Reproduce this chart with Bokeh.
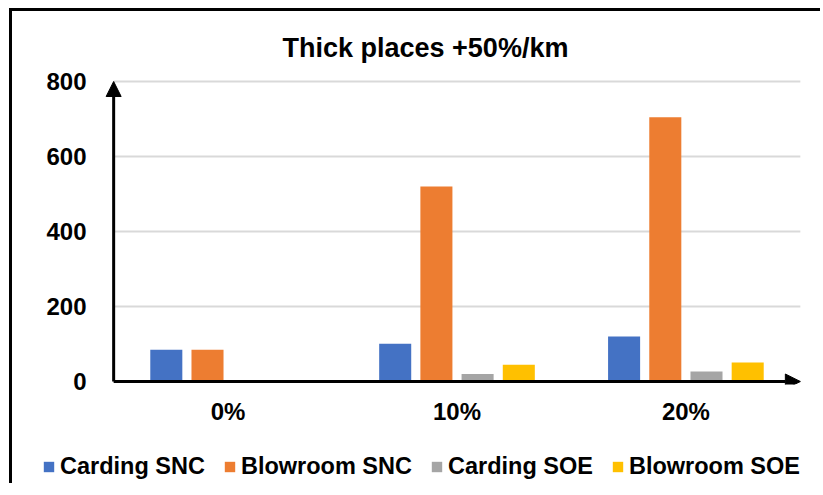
from bokeh.plotting import figure
from bokeh.models import (FactorRange, ColumnDataSource, Legend, LegendItem, Arrow,
                          NormalHead, FixedTicker, Range1d)
from bokeh.layouts import column
from bokeh.transform import dodge
from bokeh.embed import file_html
from bokeh.resources import INLINE

categories = ["0%", "10%", "20%"]
carding_snc = [85, 101, 120]
blowroom_snc = [85, 520, 705]
carding_soe = [0, 20, 27]
blowroom_soe = [0, 45, 51]
series_names = ["Carding SNC", "Blowroom SNC", "Carding SOE", "Blowroom SOE"]
y_ticks = [0, 200, 400, 600, 800]

colors = ["#4472C4", "#ED7D31", "#A5A5A5", "#FFC000"]
FONT = "Liberation Sans"

source = ColumnDataSource(dict(cat=categories, cs=carding_snc, bs=blowroom_snc,
                               co=carding_soe, bo=blowroom_soe))

p = figure(x_range=FactorRange(*categories, range_padding=0.04,
                               range_padding_units="absolute"),
           y_range=Range1d(-8, 808),
           width=808, height=437, output_backend="svg", toolbar_location=None,
           min_border_left=92, min_border_right=11, min_border_top=67,
           min_border_bottom=64)
p.frame_align = False
p.outline_line_color = None
p.background_fill_color = "white"
p.border_fill_color = "white"

p.title.text = "Thick places +50%/km"
p.title.text_font = FONT
p.title.text_font_size = "27px"
p.title.text_font_style = "bold"
p.title.text_color = "black"
p.title.align = "left"
p.title.offset = 178
p.title.standoff = 32

# grid lines drawn from the axis to the arrow end
p.segment(x0=[0] * len(y_ticks), x1=[3] * len(y_ticks), y0=y_ticks, y1=y_ticks,
          line_color="#D9D9D9", line_width=2)

offsets = [-0.27, -0.09, 0.09, 0.27]
fields = ["cs", "bs", "co", "bo"]
for f, off, c in zip(fields, offsets, colors):
    p.vbar(x=dodge("cat", off, range=p.x_range), top=f, width=0.14,
           source=source, fill_color=c, line_color=None)

# axes styling
for ax in (p.xaxis, p.yaxis):
    ax.axis_line_color = None
    ax.major_tick_line_color = None
    ax.minor_tick_line_color = None
    ax.major_tick_out = 0
    ax.major_tick_in = 0
    ax.major_label_text_font = FONT
    ax.major_label_text_font_style = "bold"
    ax.major_label_text_font_size = "24px"
    ax.major_label_text_color = "black"
p.yaxis.ticker = FixedTicker(ticks=y_ticks)
p.yaxis.major_label_standoff = 18
p.xaxis.major_label_standoff = 13

p.xgrid.grid_line_color = None
p.ygrid.grid_line_color = None

# arrow axes
p.add_layout(Arrow(x_start=0, y_start=0, x_end=0, y_end=800, line_width=3,
                   line_color="black",
                   end=NormalHead(size=15, fill_color="black", line_color="black")))
p.add_layout(Arrow(x_start=0, y_start=0, x_end=3, y_end=0, line_width=3,
                   line_color="black",
                   end=NormalHead(size=15, fill_color="black", line_color="black")))

# legend strip below the chart
lf = figure(width=808, height=35, output_backend="svg", toolbar_location=None,
            x_range=Range1d(0, 1), y_range=Range1d(0, 1),
            x_axis_location=None, y_axis_location=None,
            min_border=0, min_border_left=0, min_border_right=0,
            min_border_top=0, min_border_bottom=0)
lf.frame_align = False
lf.outline_line_color = None
lf.grid.grid_line_color = None
lf.border_fill_color = "white"
lf.background_fill_color = "white"
legend_renderers = [lf.vbar(x=[-10], top=[0], width=0.1, fill_color=c, line_color=None)
                    for c in colors]
legend = Legend(items=[LegendItem(label=n, renderers=[r])
                       for n, r in zip(series_names, legend_renderers)],
                orientation="horizontal", location=(30, 3),
                glyph_width=13, glyph_height=13, label_standoff=5, spacing=18,
                padding=0, margin=0, border_line_color=None, background_fill_alpha=0,
                label_text_font=FONT, label_text_font_style="bold",
                label_text_font_size="23.5px", label_text_color="black")
lf.add_layout(legend, "center")

layout = column(p, lf, spacing=0)
layout.styles = {"position": "relative", "left": "9px", "top": "8px",
                 "border-left": "3px solid black", "border-top": "3px solid black"}

open("out.html", "w").write(file_html(layout, INLINE))
